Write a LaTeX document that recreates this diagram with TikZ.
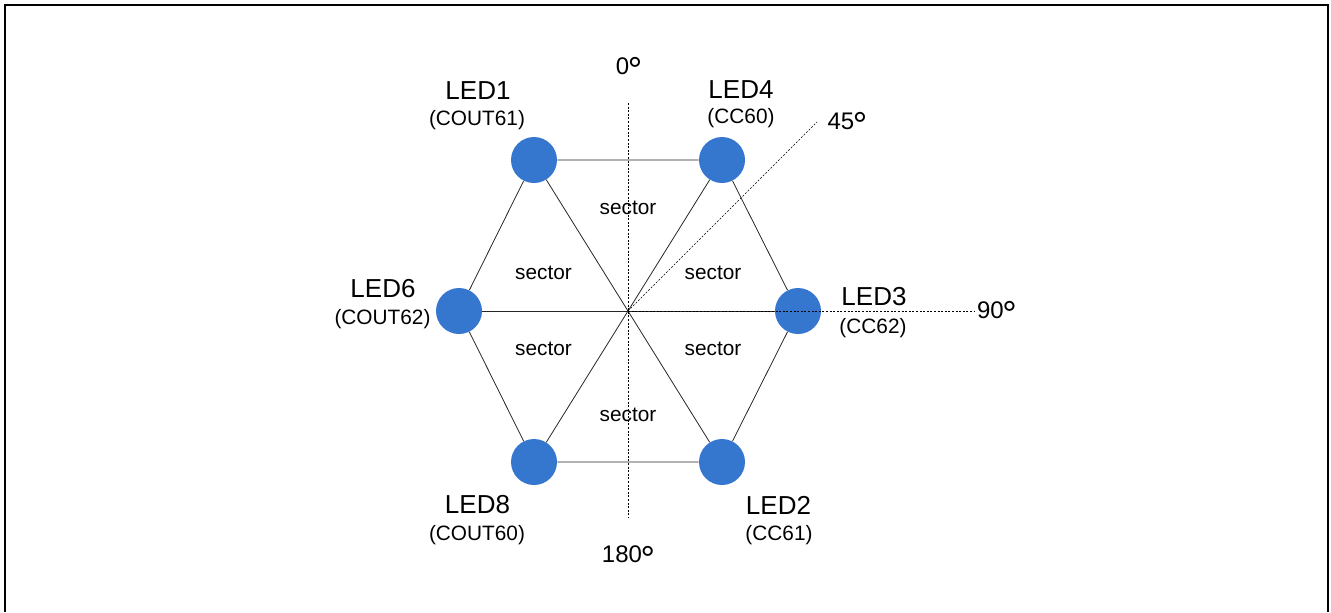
\documentclass[tikz,border=0pt]{standalone}
\usepackage{fontspec}
\setmainfont{Liberation Sans}
\usepackage{xcolor}
\usepackage{tikz}
\usetikzlibrary{positioning}
\definecolor{ledblue}{RGB}{53, 119, 206}
% a larger degree ring, top aligned with the digits
\newcommand{\dg}{\kern-1pt\raisebox{-6.5pt}[0pt][0pt]{\fontsize{27}{27}\selectfont °}\kern-1.5pt}

\begin{document}
\begin{tikzpicture}[x=0.75pt, y=-0.75pt,
    led/.style={circle, fill=ledblue, minimum size=34.5pt, inner sep=0pt},
    wire/.style={line width=0.6pt, black!85},
    guide/.style={line width=0.5pt, dash pattern=on 1.5pt off 1.2pt},
    ledname/.style={font=\fontsize{19.5}{21}\selectfont},
    ledpin/.style={font=\fontsize{15.6}{17}\selectfont},
    deg/.style={font=\fontsize{18}{20}\selectfont},
    sectxt/.style={font=\fontsize{15.6}{17}\selectfont}]
    \useasboundingbox (0,0) rectangle (1331,612);

    % Frame (open at the bottom)
    \draw[line width=1.9pt] (5,612) -- (5,5) -- (1328,5) -- (1328,612);

    % LEDs on the hexagon
    \coordinate (c) at (628,311);
    \foreach \n/\x/\y in {1/534/160, 4/722/160, 3/798/311, 2/722/462, 8/534/462, 6/459/311} {
        \node[led] (led\n) at (\x,\y) {};
    }

    % Hexagon edges and spokes
    \draw[wire] (led1) -- (led4) -- (led3) -- (led2) -- (led8) -- (led6) -- (led1);
    \draw[wire] (led1) -- (led2);
    \draw[wire] (led4) -- (led8);
    \draw[wire] (led6) -- (led3);

    % Angle guides
    \coordinate (n) at (628,103);
    \coordinate (s) at (628,518);
    \coordinate (ne) at (817,122);
    \coordinate (e) at (975,311);
    \draw[guide] (n) -- (s);
    \draw[guide] (c) -- (ne);
    \draw[guide] (c) -- (e);
    \node[deg] (d0) at (628,66) {0\dg};
    \node[deg] (d45) at (846.5,121) {45\dg};
    \node[deg] (d90) at (996,310) {90\dg};
    \node[deg] (d180) at (627.5,554.5) {180\dg};

    % LED names and pins
    \foreach \n/\p/\x/\y/\px/\py in {1/COUT61/478/91/477/120, 4/CC60/741/90/741/118.5,
        6/COUT62/383/289/382.5/319, 3/CC62/874/296.5/873/328,
        8/COUT60/477.5/505/477/535, 2/CC61/778.5/505/779/535} {
        \node[ledname] (name\n) at (\x,\y) {LED\n};
        \node[ledpin] (pin\n) at (\px,\py) {(\p)};
    }

    % Sectors
    \foreach \i/\x/\y in {1/628/208, 2/713/273, 3/713/348.5, 4/628/415, 5/543.5/348.5, 6/543.5/273} {
        \node[sectxt] (sec\i) at (\x,\y) {sector};
    }
\end{tikzpicture}
\end{document}
